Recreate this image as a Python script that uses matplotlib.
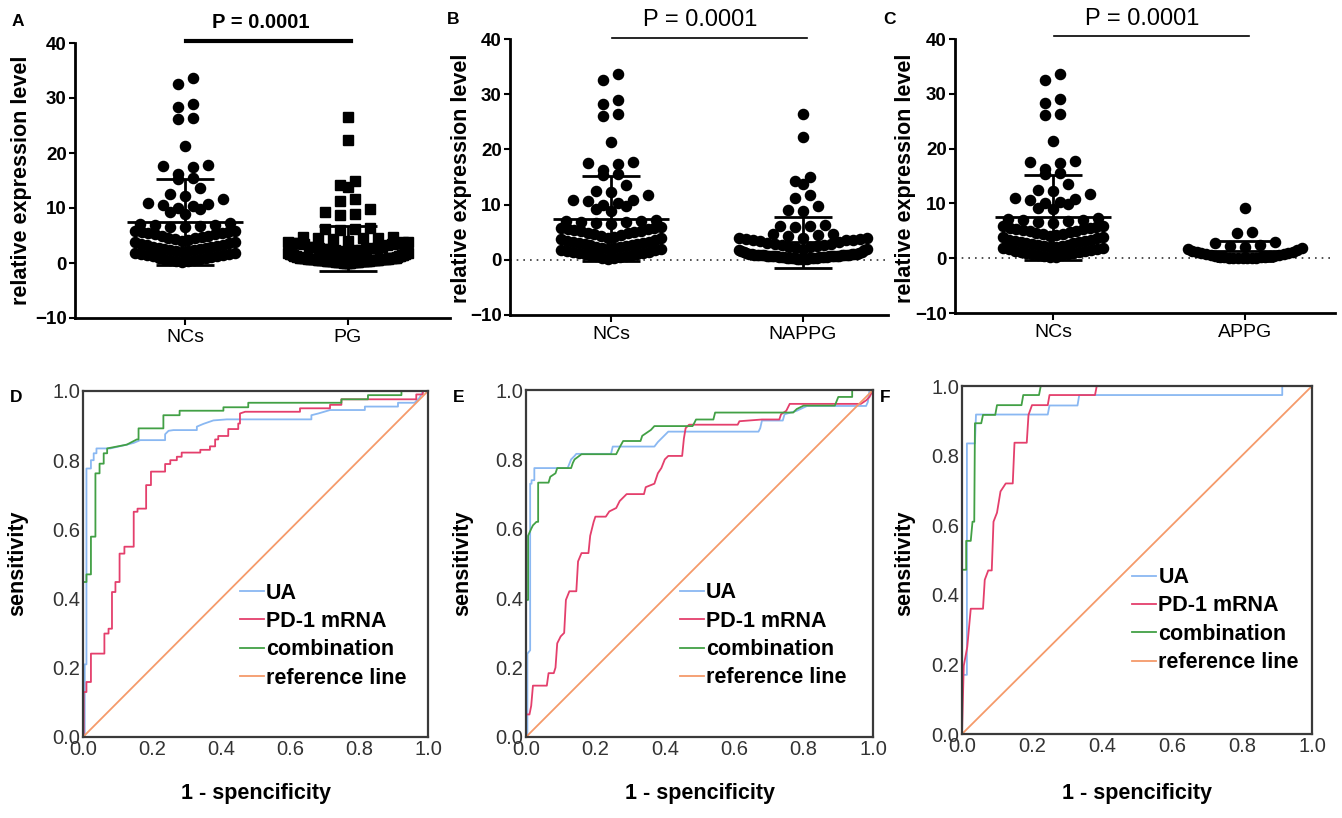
import numpy as np
import matplotlib.pyplot as plt
from matplotlib.transforms import blended_transform_factory

plt.rcParams['font.family'] = ['Liberation Sans', 'DejaVu Sans']

nc_vals = [33.6, 32.6, 29.0, 28.3, 26.4, 26.1, 21.3,
           17.8, 17.4, 17.6, 16.2, 15.5, 15.3, 13.6,
           12.5, 12.2, 11.7, 10.9, 10.6, 10.3, 10.0, 10.8, 9.8, 9.2, 8.9,
           7.3, 7.1, 7.0, 6.9, 6.8, 6.6, 6.5,
           5.9, 5.8, 5.7, 5.6, 5.5, 5.4, 5.3, 5.2, 5.0, 4.9, 4.8, 4.6, 4.5,
           4.4, 4.2, 4.0, 3.9, 3.8,
           3.6, 3.4, 3.3, 3.2, 3.1, 3.0, 2.9, 2.8, 2.7, 2.6, 2.5, 2.4, 2.3,
           2.2, 2.1, 2.0, 1.9, 1.8, 1.7, 1.6, 1.5, 1.4, 1.3, 1.2, 1.1, 1.0,
           0.9, 0.8, 0.7, 0.6, 0.5, 0.4, 0.3, 0.2]
nappg_vals = [26.5, 22.3, 15.0, 14.2, 13.8, 11.7, 11.2, 9.8, 9.0, 8.8,
              6.3, 6.2, 6.1, 6.0,
              4.7, 4.6, 4.5, 4.4, 4.0, 3.9, 3.9, 3.8, 3.7, 3.6, 3.6, 3.5, 3.4,
              3.2, 3.0, 2.9, 2.8, 2.7, 2.6, 2.5, 2.4, 2.3, 2.2,
              2.0, 1.9, 1.8, 1.7, 1.6, 1.5, 1.4, 1.3, 1.2, 1.1,
              1.0, 0.95, 0.9, 0.85, 0.8, 0.75, 0.7, 0.65, 0.6, 0.55, 0.5, 0.45,
              1.1, 1.0, 1.0, 0.9, 0.9, 0.8, 0.8, 0.8, 0.7, 0.7, 0.7, 0.6, 0.6,
              0.6, 0.5, 0.5, 0.5, 0.5, 0.4, 0.4, 0.4, 0.4, 0.3, 0.3, 0.3, 0.3,
              0.2, 0.2, 0.2, 0.1, 0.1]
appg_vals = [9.2, 4.7, 4.6,
             2.9, 2.7, 2.5, 2.3, 2.1, 1.9, 1.7, 1.5, 1.3, 1.2, 1.1, 1.0, 0.9,
             0.8, 0.7, 0.6, 0.5, 0.45, 0.4, 0.35, 0.3, 0.25, 0.2, 0.15, 0.1,
             0.1, 0.05, 0.05, 0.05, 0.05, 0.05]
pg_vals = nappg_vals + appg_vals

# ROC curves: (1 - specificity, sensitivity)
roc_d_ua = [(0, 0), (0.005, 0), (0.005, 0.21), (0.01, 0.21), (0.01, 0.776), (0.023, 0.776),
            (0.023, 0.80), (0.031, 0.80), (0.031, 0.82), (0.039, 0.82), (0.039, 0.834),
            (0.079, 0.834), (0.127, 0.845), (0.147, 0.85), (0.166, 0.858), (0.238, 0.858),
            (0.238, 0.875), (0.248, 0.885), (0.262, 0.887), (0.33, 0.887), (0.33, 0.897),
            (0.349, 0.905), (0.378, 0.915), (0.417, 0.918), (0.662, 0.918), (0.662, 0.93),
            (0.682, 0.935), (0.716, 0.945), (0.817, 0.945), (0.817, 0.955), (0.913, 0.955),
            (0.913, 0.966), (0.961, 0.966), (0.975, 0.98), (0.986, 1.0), (1, 1)]
roc_d_pd1 = [(0, 0), (0.002, 0), (0.002, 0.13), (0.01, 0.13), (0.01, 0.159), (0.023, 0.159),
             (0.023, 0.241), (0.062, 0.241), (0.062, 0.299), (0.074, 0.299), (0.074, 0.313),
             (0.084, 0.313), (0.084, 0.419), (0.094, 0.419), (0.094, 0.448), (0.106, 0.448),
             (0.106, 0.53), (0.12, 0.53), (0.12, 0.55), (0.147, 0.55), (0.147, 0.651),
             (0.158, 0.651), (0.158, 0.66), (0.183, 0.66), (0.183, 0.728), (0.197, 0.728),
             (0.197, 0.767), (0.238, 0.767), (0.238, 0.789), (0.253, 0.789), (0.253, 0.80),
             (0.272, 0.80), (0.272, 0.81), (0.286, 0.81), (0.286, 0.822), (0.34, 0.822),
             (0.34, 0.83), (0.368, 0.83), (0.368, 0.84), (0.383, 0.84), (0.383, 0.86),
             (0.392, 0.86), (0.392, 0.87), (0.421, 0.87), (0.421, 0.89), (0.45, 0.89),
             (0.45, 0.906), (0.455, 0.906), (0.455, 0.935), (0.47, 0.94), (0.629, 0.94),
             (0.629, 0.95), (0.716, 0.95), (0.716, 0.96), (0.749, 0.96), (0.749, 0.976),
             (0.966, 0.976), (0.966, 0.99), (0.985, 0.99), (0.985, 1.0), (1, 1)]
roc_d_comb = [(0, 0), (0, 0.448), (0.01, 0.448), (0.01, 0.47), (0.023, 0.47), (0.023, 0.579),
              (0.036, 0.579), (0.036, 0.762), (0.048, 0.762), (0.048, 0.79), (0.06, 0.79),
              (0.06, 0.82), (0.07, 0.82), (0.07, 0.834), (0.127, 0.845), (0.156, 0.86),
              (0.161, 0.86), (0.161, 0.892), (0.233, 0.892), (0.233, 0.93), (0.28, 0.93),
              (0.28, 0.943), (0.407, 0.943), (0.407, 0.953), (0.479, 0.953), (0.479, 0.966),
              (0.749, 0.966), (0.749, 0.976), (0.826, 0.976), (0.826, 0.988), (0.923, 0.988),
              (0.923, 1.0), (1, 1)]
roc_e_ua = [(0, 0), (0.004, 0), (0.004, 0.24), (0.012, 0.25), (0.012, 0.73), (0.016, 0.73),
            (0.016, 0.74), (0.024, 0.74), (0.024, 0.775), (0.12, 0.775), (0.13, 0.80),
            (0.14, 0.81), (0.145, 0.816), (0.245, 0.816), (0.25, 0.837), (0.37, 0.837),
            (0.38, 0.85), (0.39, 0.86), (0.40, 0.87), (0.41, 0.88), (0.67, 0.88),
            (0.675, 0.89), (0.68, 0.912), (0.74, 0.912), (0.745, 0.93), (0.78, 0.94),
            (0.81, 0.954), (0.98, 0.954), (0.985, 0.965), (0.99, 1.0), (1, 1)]
roc_e_pd1 = [(0, 0), (0, 0.065), (0.01, 0.065), (0.015, 0.09), (0.02, 0.148), (0.06, 0.148),
             (0.065, 0.184), (0.08, 0.184), (0.085, 0.20), (0.09, 0.27), (0.10, 0.29),
             (0.11, 0.30), (0.115, 0.395), (0.125, 0.42), (0.145, 0.42), (0.15, 0.506),
             (0.16, 0.53), (0.18, 0.53), (0.185, 0.58), (0.195, 0.62), (0.20, 0.635),
             (0.23, 0.635), (0.24, 0.65), (0.26, 0.66), (0.27, 0.68), (0.28, 0.69),
             (0.29, 0.70), (0.34, 0.70), (0.345, 0.72), (0.37, 0.73), (0.38, 0.76),
             (0.39, 0.775), (0.40, 0.80), (0.41, 0.81), (0.45, 0.81), (0.455, 0.86),
             (0.46, 0.89), (0.47, 0.90), (0.61, 0.90), (0.615, 0.91), (0.68, 0.915),
             (0.73, 0.915), (0.735, 0.93), (0.75, 0.94), (0.76, 0.96), (0.965, 0.96),
             (0.98, 0.97), (0.99, 0.98), (1, 1)]
roc_e_comb = [(0, 0), (0, 0.395), (0.006, 0.395), (0.006, 0.58), (0.015, 0.60), (0.02, 0.61),
              (0.03, 0.62), (0.035, 0.62), (0.035, 0.733), (0.065, 0.733), (0.07, 0.75),
              (0.085, 0.76), (0.09, 0.775), (0.13, 0.775), (0.135, 0.79), (0.14, 0.80),
              (0.16, 0.815), (0.26, 0.815), (0.27, 0.835), (0.28, 0.853), (0.33, 0.853),
              (0.335, 0.868), (0.36, 0.885), (0.37, 0.896), (0.48, 0.896), (0.485, 0.905),
              (0.49, 0.915), (0.54, 0.915), (0.545, 0.935), (0.77, 0.935), (0.78, 0.945),
              (0.80, 0.955), (0.89, 0.955), (0.90, 0.98), (0.94, 0.98), (0.94, 1.0), (1, 1)]
roc_f_ua = [(0, 0), (0, 0.17), (0.014, 0.17), (0.014, 0.835), (0.037, 0.835), (0.04, 0.918),
            (0.245, 0.918), (0.25, 0.944), (0.33, 0.944), (0.335, 0.974), (0.915, 0.974),
            (0.915, 1.0), (1, 1)]
roc_f_pd1 = [(0, 0), (0.005, 0.196), (0.015, 0.25), (0.025, 0.36), (0.06, 0.36),
             (0.065, 0.443), (0.075, 0.47), (0.085, 0.47), (0.09, 0.61), (0.10, 0.636),
             (0.11, 0.697), (0.125, 0.72), (0.145, 0.72), (0.15, 0.837), (0.185, 0.837),
             (0.19, 0.917), (0.2, 0.945), (0.245, 0.945), (0.25, 0.974), (0.38, 0.974),
             (0.385, 1.0), (1, 1)]
roc_f_comb = [(0, 0), (0, 0.472), (0.012, 0.472), (0.012, 0.555), (0.025, 0.555),
              (0.03, 0.61), (0.035, 0.61), (0.037, 0.893), (0.055, 0.893), (0.06, 0.917),
              (0.095, 0.917), (0.1, 0.945), (0.17, 0.945), (0.175, 0.974), (0.22, 0.974),
              (0.225, 1.0), (1, 1)]

roc_labels = ['UA', 'PD-1 mRNA', 'combination', 'reference line']
roc_colors = ['#8ab8f2', '#e43f6c', '#42a045', '#f59a6a']

W, H = 1342, 818
fig = plt.figure(figsize=(W / 100, H / 100), dpi=100)


def px_axes(l, t, r, b):
    return fig.add_axes([l / W, 1 - b / H, (r - l) / W, (b - t) / H])


def swarm_x(vals, center, ax, half_px, step_px=15, bin_h=2.0):
    # Prism-like column scatter: rows by value, smallest in the middle
    x0, x1 = ax.get_xlim()
    ppu = ax.get_position().width * W / (x1 - x0)
    vals = np.asarray(vals, float)
    xs = np.zeros_like(vals)
    bins = np.floor(vals / bin_h)
    for b in np.unique(bins):
        idx = np.where(bins == b)[0]
        idx = idx[np.argsort(vals[idx], kind='stable')]
        n = len(idx)
        sp = step_px if n < 2 else min(step_px, 2 * half_px / (n - 1))
        slots = (np.arange(n) - (n - 1) / 2) * sp
        slots = slots[np.argsort(np.abs(slots), kind='stable')]
        xs[idx] = center + slots / ppu
    return xs, ppu


def column(ax, vals, center, marker, half_px):
    xs, ppu = swarm_x(vals, center, ax, half_px)
    ax.plot(xs, vals, marker, color='k', ms=7.3, ls='none', zorder=3, clip_on=False)
    m = np.mean(vals)
    s = np.std(vals, ddof=1)
    ax.hlines(m, center - 58 / ppu, center + 58 / ppu, color='k', lw=2, zorder=4)
    ax.hlines([m - s, m + s], center - 29 / ppu, center + 29 / ppu, color='k', lw=2, zorder=4)
    ax.vlines(center, m - s, m + s, color='k', lw=2, zorder=4)


def scatter_panel(ax, xlim, groups, labels, markers, halfs, zero_line, p_style):
    ax.set_xlim(*xlim)
    ax.set_ylim(-10, 40)
    for sp in ['top', 'right']:
        ax.spines[sp].set_visible(False)
    for sp in ['left', 'bottom']:
        ax.spines[sp].set_linewidth(2)
    if zero_line:
        ax.axhline(0, color='#333333', lw=1.2, ls=(0, (1, 3)), zorder=1)
    for i, vals in enumerate(groups):
        column(ax, vals, i, markers[i], halfs[i])
    ax.set_yticks([-10, 0, 10, 20, 30, 40])
    ax.set_xticks([0, 1])
    ax.set_xticklabels(labels, fontsize=14)
    ax.tick_params(axis='y', length=4, width=1.5, pad=2, labelsize=13.5)
    ax.tick_params(axis='x', length=5, width=1.5, pad=3)
    for t in ax.get_yticklabels():
        t.set_fontweight('bold')
    tr = blended_transform_factory(ax.transData, ax.transAxes)
    bar_y, text_y, lw, fs, fw = p_style
    ax.plot([0.005, 1.02], [bar_y, bar_y], color='k', lw=lw, transform=tr, clip_on=False)
    ax.text(0.465, text_y, 'P = 0.0001', transform=tr, ha='center', va='center',
            fontsize=fs, fontweight=fw)


axA = px_axes(75, 43, 450, 318)
scatter_panel(axA, (-0.675, 1.626), [nc_vals, pg_vals], ['NCs', 'PG'], ['o', 's'],
              [50, 60], False, (1.007, 1.076, 3, 14.5, 'bold'))
axB = px_axes(510, 39, 888, 315)
scatter_panel(axB, (-0.526, 1.443), [nc_vals, nappg_vals], ['NCs', 'NAPPG'], ['o', 'o'],
              [50, 64], True, (1.004, 1.069, 1.2, 17, 'normal'))
axC = px_axes(955, 39, 1335, 313)
scatter_panel(axC, (-0.51, 1.47), [nc_vals, appg_vals], ['NCs', 'APPG'], ['o', 'o'],
              [50, 57], True, (1.011, 1.073, 1.2, 17, 'normal'))

for x, y in [(22, 180), (462, 178), (905, 178)]:
    fig.text(x / W, 1 - y / H, 'relative expression level', rotation=90, ha='center',
             va='center', fontsize=15.5, fontweight='bold')


def roc_panel(ax, curves, leg_anchor):
    for pts, lab, col in zip(curves, roc_labels[:3], roc_colors[:3]):
        pts = np.array(pts)
        ax.plot(pts[:, 0], pts[:, 1], color=col, lw=1.3, label=lab)
    ax.plot([0, 1], [0, 1], color=roc_colors[3], lw=1.3, label=roc_labels[3])
    ax.set_xlim(0, 1)
    ax.set_ylim(0, 1)
    ticks = np.linspace(0, 1, 6)
    ax.set_xticks(ticks)
    ax.set_yticks(ticks)
    ax.set_xticklabels(['%.1f' % t for t in ticks])
    ax.set_yticklabels(['%.1f' % t for t in ticks])
    ax.tick_params(length=0, labelsize=14.5, labelcolor='#333333', pad=2)
    for sp in ax.spines.values():
        sp.set_color('#3a3a3a')
        sp.set_linewidth(1.6)
    ax.legend(loc='lower left', bbox_to_anchor=leg_anchor, frameon=False, borderpad=0,
              borderaxespad=0, handlelength=1.1, handletextpad=0.1, labelspacing=0.34,
              prop={'weight': 'bold', 'size': 15.5})


axD = px_axes(83, 391, 428, 737)
roc_panel(axD, [roc_d_ua, roc_d_pd1, roc_d_comb], (0.455, 0.14))
axE = px_axes(526, 390, 873, 737)
roc_panel(axE, [roc_e_ua, roc_e_pd1, roc_e_comb], (0.445, 0.14))
axF = px_axes(962, 386, 1312, 734)
roc_panel(axF, [roc_f_ua, roc_f_pd1, roc_f_comb], (0.487, 0.175))

for x in [18, 463, 905]:
    fig.text(x / W, 1 - 563 / H, 'sensitivity', rotation=90, ha='center', va='center',
             fontsize=15.5, fontweight='bold')
for x in [256, 700, 1137]:
    fig.text(x / W, 1 - 793 / H, '1 - spencificity', ha='center', va='center',
             fontsize=15.5, fontweight='bold')

for lab, x, y in [('A', 18, 21), ('B', 453, 20), ('C', 889, 20),
                  ('D', 16, 397), ('E', 459, 397), ('F', 885, 397)]:
    fig.text(x / W, 1 - y / H, lab, ha='center', va='center', fontsize=12.5,
             fontweight='bold')

fig.savefig('out.png', dpi=100)
